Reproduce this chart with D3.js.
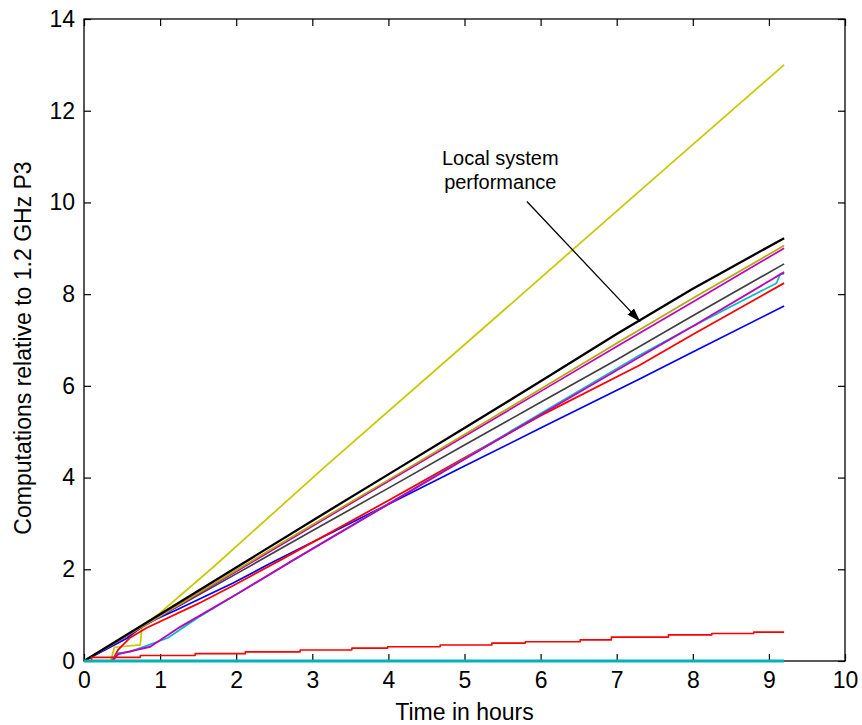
<!DOCTYPE html>
<html>
<head>
<meta charset="utf-8">
<script src="https://cdn.jsdelivr.net/npm/d3@7"></script>
<style>
    body { margin: 0; background: #fff; }
    svg text { font-family: "Liberation Sans", Arial, Helvetica, sans-serif; fill: #000; }
</style>
</head>
<body>
<div id="chart"></div>
<script>
// Values, as [hours, computations] pairs for each run.
let yellowRun = [[0, 0], [0.35, 0], [0.4, 0.3], [0.74, 0.35], [0.76, 0.75], [1.0, 1.05], [1.7, 2.05],
    [3.19, 4.27], [5.07, 7.0], [7.57, 10.64], [9.2, 13.0]];
let blueRun = [[0, 0], [0.56, 0.49], [0.82, 0.82], [1.2, 1.1], [1.96, 1.7], [2.45, 2.13], [4, 3.42],
    [5, 4.25], [6, 5.08], [7.3, 6.15], [8, 6.74], [9.2, 7.74]];
let redRun = [[0, 0], [0.37, 0], [0.45, 0.25], [0.6, 0.5], [0.82, 0.72], [1.5, 1.25], [2, 1.68],
    [2.58, 2.2], [4, 3.5], [5, 4.43], [6, 5.35], [7.3, 6.45], [8, 7.12], [9.2, 8.24]];
let cyanRun = [[0, 0], [0.37, 0], [0.45, 0.17], [0.6, 0.2], [1.1, 0.5], [1.5, 0.95], [2, 1.45],
    [3, 2.45], [4, 3.43], [5, 4.41], [6, 5.4], [7.3, 6.67], [8, 7.3], [9.1, 8.24], [9.15, 8.44], [9.2, 8.44]];
let magentaLowRun = [[0, 0], [0.37, 0], [0.45, 0.15], [0.87, 0.31], [1.26, 0.74], [2.0, 1.45],
    [2.75, 2.2], [4, 3.42], [5, 4.4], [6, 5.37], [7.3, 6.63], [8, 7.3], [9.2, 8.48]];
let grayRun = [[0, 0], [1, 0.97], [2, 1.9], [3, 2.84], [4, 3.77], [5, 4.71], [6, 5.64], [7, 6.57],
    [8, 7.53], [9.2, 8.66]];
let magentaHighRun = [[0, 0], [1, 0.97], [2, 1.95], [3, 2.94], [4, 3.92], [5, 4.9], [6, 5.88],
    [7, 6.86], [8, 7.83], [9.2, 9.0]];
let oliveRun = [[0, 0], [1, 0.98], [2, 1.98], [3, 2.97], [4, 3.95], [5, 4.94], [6, 5.93], [7, 6.93],
    [8, 7.91], [9.2, 9.06]];
let localRun = [[0, 0], [1, 1.02], [2, 2.04], [3, 3.06], [4, 4.07], [5, 5.08], [6, 6.1], [7, 7.13],
    [8, 8.12], [9.2, 9.22]];
let redLowRun = [[0, 0], [0.1, 0.08], [0.74, 0.12], [1.46, 0.16], [2.12, 0.2], [2.84, 0.24],
    [3.52, 0.28], [3.99, 0.31], [4.68, 0.35], [5.36, 0.39], [5.8, 0.42], [6.52, 0.46], [6.93, 0.52],
    [7.68, 0.57], [8.25, 0.6], [8.8, 0.63], [9.2, 0.63]];
let cyanLowRun = [[0, 0], [9.2, 0]];

let xTicks = [0, 1, 2, 3, 4, 5, 6, 7, 8, 9, 10];
let yTicks = [0, 2, 4, 6, 8, 10, 12, 14];

// Annotation: label lines and arrow ends, in data units.
let noteLines = ["Local system", "performance"];
let noteAnchor = [5.47, 10.82];
let arrowFrom = [5.82, 10.02];
let arrowTo = [7.31, 7.4];

// Draw order and styling for each run.
let series = [
    { values: yellowRun, color: "#c8c800", width: 1.7 },
    { values: blueRun, color: "#0000ff", width: 1.7 },
    { values: redRun, color: "#ff0000", width: 1.8 },
    { values: cyanRun, color: "#00bfbf", width: 1.7 },
    { values: magentaLowRun, color: "#bf00bf", width: 1.9 },
    { values: grayRun, color: "#404040", width: 1.7 },
    { values: magentaHighRun, color: "#c000c0", width: 1.7 },
    { values: oliveRun, color: "#b8a800", width: 1.7 },
    { values: localRun, color: "#000000", width: 2.3 },
    { values: redLowRun, color: "#ff0000", width: 1.6, stepped: true },
    { values: cyanLowRun, color: "#00b4b4", width: 3 }
];

let width = 862;
let height = 725;
let margin = { top: 19, right: 17, bottom: 64, left: 84 };

let svg = d3.select("#chart")
    .append("svg")
    .attr("width", width)
    .attr("height", height);

let x = d3.scaleLinear().domain([0, 10]).range([margin.left, width - margin.right]);
let y = d3.scaleLinear().domain([0, 14]).range([height - margin.bottom, margin.top]);

// Arrow head marker.
svg.append("defs").append("marker")
    .attr("id", "head")
    .attr("viewBox", "0 0 14 9")
    .attr("refX", 14)
    .attr("refY", 4.5)
    .attr("markerWidth", 14)
    .attr("markerHeight", 9)
    .attr("markerUnits", "userSpaceOnUse")
    .attr("orient", "auto")
    .append("path")
    .attr("d", "M0,0L14,4.5L0,9Z")
    .attr("fill", "#000");

function styleAxis(g) {
    g.select(".domain").remove();
    g.selectAll(".tick line").attr("stroke", "#000").attr("stroke-width", 1.2);
    g.selectAll("text").attr("font-size", 23).style("font-family", "'Liberation Sans', Arial, sans-serif");
}

// Axes with inward ticks on all four sides.
svg.append("g")
    .attr("transform", `translate(0,${height - margin.bottom})`)
    .call(d3.axisBottom(x).tickValues(xTicks).tickSize(-7).tickPadding(11).tickFormat(d3.format("d")))
    .call(styleAxis);

svg.append("g")
    .attr("transform", `translate(${margin.left},0)`)
    .call(d3.axisLeft(y).tickValues(yTicks).tickSize(-7).tickPadding(9).tickFormat(d3.format("d")))
    .call(styleAxis);

svg.append("g")
    .attr("transform", `translate(0,${margin.top})`)
    .call(d3.axisTop(x).tickValues(xTicks).tickSize(-7).tickFormat(""))
    .call(styleAxis);

svg.append("g")
    .attr("transform", `translate(${width - margin.right},0)`)
    .call(d3.axisRight(y).tickValues(yTicks).tickSize(-7).tickFormat(""))
    .call(styleAxis);

// Plot frame.
svg.append("rect")
    .attr("x", x(0))
    .attr("y", y(14))
    .attr("width", x(10) - x(0))
    .attr("height", y(0) - y(14))
    .attr("fill", "none")
    .attr("stroke", "#000")
    .attr("stroke-width", 1.3);

// The runs; the slow run is a staircase of held values.
let line = d3.line()
    .x(d => x(d[0]))
    .y(d => y(d[1]));

let stepLine = d3.line()
    .x(d => x(d[0]))
    .y(d => y(d[1]))
    .curve(d3.curveStepAfter);

svg.append("g")
    .selectAll("path")
    .data(series)
    .enter()
    .append("path")
    .attr("d", d => d.stepped ? stepLine(d.values) : line(d.values))
    .attr("fill", "none")
    .attr("stroke", d => d.color)
    .attr("stroke-width", d => d.width)
    .attr("stroke-linejoin", "round");

// Annotation.
svg.append("text")
    .attr("x", x(noteAnchor[0]))
    .attr("y", y(noteAnchor[1]))
    .attr("text-anchor", "middle")
    .attr("font-size", 20)
    .selectAll("tspan")
    .data(noteLines)
    .enter()
    .append("tspan")
    .attr("x", x(noteAnchor[0]))
    .attr("dy", (d, i) => i === 0 ? 0 : 24)
    .text(d => d);

svg.append("line")
    .attr("x1", x(arrowFrom[0]))
    .attr("y1", y(arrowFrom[1]))
    .attr("x2", x(arrowTo[0]))
    .attr("y2", y(arrowTo[1]))
    .attr("stroke", "#000")
    .attr("stroke-width", 1.3)
    .attr("marker-end", "url(#head)");

// Axis titles.
svg.append("text")
    .attr("x", (x(0) + x(10)) / 2)
    .attr("y", 720)
    .attr("text-anchor", "middle")
    .attr("font-size", 23)
    .text("Time in hours");

svg.append("text")
    .attr("transform", `translate(31,${(y(0) + y(14)) / 2 + 8}) rotate(-90)`)
    .attr("text-anchor", "middle")
    .attr("font-size", 23)
    .text("Computations relative to 1.2 GHz P3");
</script>
</body>
</html>
